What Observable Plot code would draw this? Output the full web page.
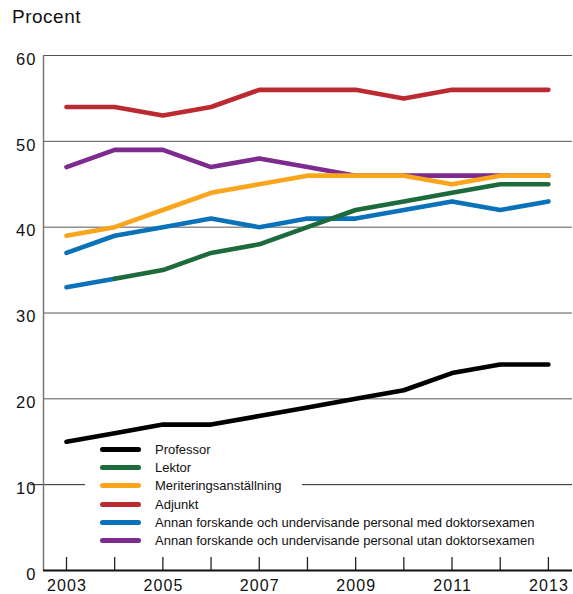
<!DOCTYPE html>
<html>
<head>
<meta charset="utf-8">
<script src="https://cdn.jsdelivr.net/npm/d3@7"></script>
<script src="https://cdn.jsdelivr.net/npm/@observablehq/plot@0.6"></script>
<style>
  body { margin: 0; background: #fff; font-family: "Liberation Sans", Arial, Helvetica, sans-serif; }
  #wrap { position: relative; width: 573px; height: 594px; }
  #title { position: absolute; left: 12px; top: 6px; font-size: 19px; line-height: 22px; letter-spacing: 0.5px; color: #111; }
  #chart { position: absolute; left: 0; top: 40px; }
  #legend { position: absolute; left: 85px; top: 442px; font-size: 13px; color: #111; display: flex; flex-direction: column; }
  .row { display: flex; align-items: center; height: 14.3px; margin-bottom: 4px; background: #fff; padding-left: 15px; padding-right: 21px; width: max-content; }
  .sw { width: 41px; height: 5px; border-radius: 3px; margin-right: 14px; }
</style>
</head>
<body>
<div id="wrap">
  <div id="title">Procent</div>
  <div id="chart"></div>
  <div id="legend"></div>
</div>
<script>
const years = [2003, 2004, 2005, 2006, 2007, 2008, 2009, 2010, 2011, 2012, 2013];
const yTicks = [0, 10, 20, 30, 40, 50, 60];
const xLabelYears = [2003, 2005, 2007, 2009, 2011, 2013];

const seriesNames = [
  "Professor",
  "Lektor",
  "Meriteringsanställning",
  "Adjunkt",
  "Annan forskande och undervisande personal med doktorsexamen",
  "Annan forskande och undervisande personal utan doktorsexamen"
];
const seriesColors = ["#000000", "#1d6b3d", "#f9a61c", "#bb2a31", "#0a72b9", "#7d2b8f"];

const professor  = [15, 16, 17, 17, 18, 19, 20, 21, 23, 24, 24];
const lektor     = [33, 34, 35, 37, 38, 40, 42, 43, 44, 45, 45];
const meritering = [39, 40, 42, 44, 45, 46, 46, 46, 45, 46, 46];
const adjunkt    = [54, 54, 53, 54, 56, 56, 56, 55, 56, 56, 56];
const annanMed   = [37, 39, 40, 41, 40, 41, 41, 42, 43, 42, 43];
const annanUtan  = [47, 49, 49, 47, 48, 47, 46, 46, 46, 46, 46];

const allValues = [professor, lektor, meritering, adjunkt, annanMed, annanUtan];

// Long-format table; in the source the first Lektor segment (2003–2004) is drawn in the blue colour
const rows = [];
allValues.forEach((vals, si) => {
  vals.forEach((v, i) => {
    let color = seriesColors[si];
    if (si === 1 && i === 0) color = seriesColors[4];
    rows.push({ series: seriesNames[si], order: si, year: years[i], value: v, color });
  });
});

const xMin = 2002.523, xMax = 2013.5;

// draw in reverse legend order
const drawOrder = [5, 4, 3, 2, 1, 0];
const lineMarks = drawOrder.map(si =>
  Plot.line(rows.filter(r => r.order === si), {
    x: "year", y: "value", stroke: "color", z: null,
    strokeWidth: 4.6, strokeLinecap: "round", strokeLinejoin: "round"
  })
);

const chart = Plot.plot({
  width: 573,
  height: 554,
  marginLeft: 43,
  marginRight: 1,
  marginTop: 15,
  marginBottom: 24,
  style: { fontFamily: '"Liberation Sans", Arial, Helvetica, sans-serif', background: "#fff", overflow: "visible", letterSpacing: "1.1px" },
  x: { domain: [xMin, xMax], axis: null },
  y: { domain: [0, 60], axis: null },
  color: { type: "identity" },
  marks: [
    Plot.ruleY(yTicks.filter(t => t > 10), { x1: xMin, x2: xMax, stroke: "#555", strokeWidth: 1 }),
    Plot.ruleY([10], { x1: 2002.25, x2: xMax, stroke: "#222", strokeWidth: 1 }),
    Plot.ruleX([xMin], { y1: 0, y2: 60, stroke: "#777", strokeWidth: 1.5 }),
    Plot.ruleX(years, { y1: 0, y2: 1.52, stroke: "#222", strokeWidth: 1.3 }),
    Plot.ruleY([0], { x1: xMin, x2: xMax, stroke: "#111", strokeWidth: 2 }),
    Plot.axisY({ ticks: yTicks, tickSize: 0, tickPadding: 7, dy: 4, fontSize: 16.5, fill: "#111", label: null }),
    Plot.axisX({ ticks: xLabelYears, tickSize: 0, tickPadding: 9, dx: 0.6, fontSize: 16, fill: "#111", label: null, tickFormat: d => String(d) }),
    ...lineMarks
  ]
});
document.getElementById("chart").appendChild(chart);

const legend = document.getElementById("legend");
seriesNames.forEach((name, i) => {
  const row = document.createElement("div");
  row.className = "row";
  const sw = document.createElement("div");
  sw.className = "sw";
  sw.style.background = seriesColors[i];
  const t = document.createElement("span");
  t.textContent = name;
  row.appendChild(sw);
  row.appendChild(t);
  legend.appendChild(row);
});
</script>
</body>
</html>
